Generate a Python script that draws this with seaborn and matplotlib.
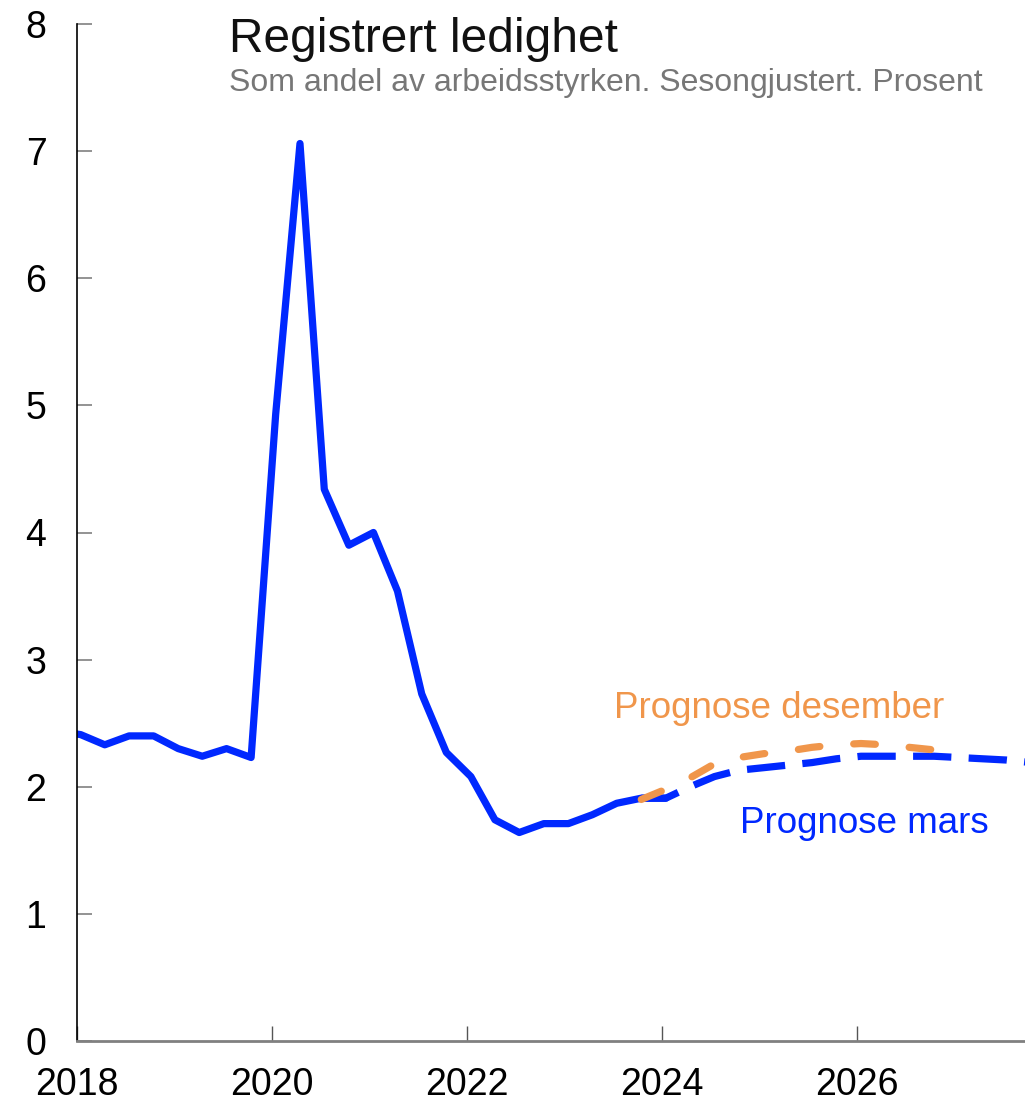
import numpy as np
import pandas as pd
import matplotlib.pyplot as plt
import matplotlib.dates as mdates
import seaborn as sns

# Registrert ledighet, kvartalstall (plassert midt i første måned i kvartalet)
hist_quarters = pd.period_range("2017Q4", "2024Q1", freq="Q")
hist_values = [2.44, 2.41, 2.33, 2.40, 2.40, 2.30, 2.24, 2.30, 2.23,
               4.93, 7.06, 4.34, 3.90, 4.00, 3.54, 2.73, 2.27,
               2.08, 1.74, 1.64, 1.71, 1.71, 1.78, 1.87, 1.91, 1.91]

mars_quarters = pd.period_range("2023Q4", "2027Q4", freq="Q")
mars_values = [1.91, 1.91, 2.00, 2.08, 2.13, 2.15, 2.17, 2.19, 2.22,
               2.24, 2.24, 2.24, 2.24, 2.23, 2.22, 2.21, 2.19]

des_quarters = pd.period_range("2023Q4", "2026Q4", freq="Q")
des_values = [1.90, 1.98, 2.07, 2.18, 2.23, 2.26, 2.28, 2.31, 2.33,
              2.34, 2.33, 2.31, 2.29]

BLUE = "#0028ff"
ORANGE = "#f0964b"
LW = 5.2


def to_dates(quarters):
    return quarters.to_timestamp(how="start") + pd.Timedelta(days=14)


sns.set_style("white")
plt.rcParams["font.family"] = ["Liberation Sans", "DejaVu Sans"]

fig = plt.figure(figsize=(10.25, 11.02), dpi=100)
ax = fig.add_axes([77 / 1025, 61 / 1102, 948 / 1025, 1017 / 1102])

sns.lineplot(x=to_dates(hist_quarters), y=hist_values, ax=ax,
             color=BLUE, linewidth=LW)
sns.lineplot(x=to_dates(mars_quarters), y=mars_values, ax=ax,
             color=BLUE, linewidth=LW, linestyle=(0, (5.3, 2.4)))
sns.lineplot(x=to_dates(des_quarters), y=des_values, ax=ax,
             color=ORANGE, linewidth=LW, linestyle=(0, (3.0, 4.7)),
             dash_capstyle="round")

ax.set_xlim(pd.Timestamp("2018-01-01"), pd.Timestamp("2027-09-21"))
ax.set_ylim(0, 8)
ax.set_yticks(range(0, 9))
ax.xaxis.set_major_locator(mdates.YearLocator(2))
ax.xaxis.set_major_formatter(mdates.DateFormatter("%Y"))
ax.set_xlabel("")
ax.set_ylabel("")

for side in ["top", "right"]:
    ax.spines[side].set_visible(False)
ax.spines["left"].set_color("black")
ax.spines["left"].set_linewidth(1.2)
ax.spines["bottom"].set_color("#808080")
ax.spines["bottom"].set_linewidth(2)

ax.tick_params(axis="y", direction="in", length=11, width=1.2, color="#808080",
               labelsize=27, labelcolor="black", pad=22, left=True)
ax.tick_params(axis="x", direction="in", length=11, width=1, color="#555555",
               labelsize=27, labelcolor="black", pad=19, bottom=True)

ax.text(pd.Timestamp("2023-07-05"), 2.54, "Prognose desember",
        color=ORANGE, fontsize=26.5, va="baseline")
ax.text(pd.Timestamp("2024-10-20"), 1.64, "Prognose mars",
        color=BLUE, fontsize=26.5, va="baseline")

fig.text(229 / 1025, 1 - 52 / 1102, "Registrert ledighet",
         fontsize=34.5, color="#111111", va="baseline")
fig.text(229 / 1025, 1 - 91 / 1102,
         "Som andel av arbeidsstyrken. Sesongjustert. Prosent",
         fontsize=23, color="#777777", va="baseline")

fig.savefig("out.png", dpi=100)
